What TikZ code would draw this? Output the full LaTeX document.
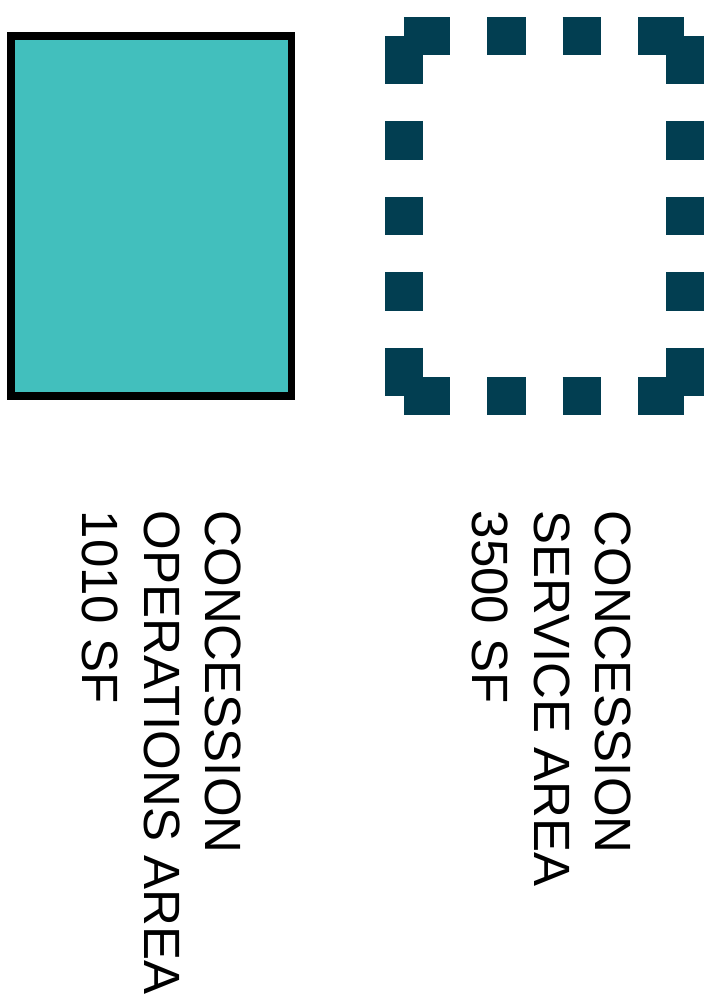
\documentclass[tikz,border=0pt]{standalone}
\usepackage{fontspec}
\setmainfont{Liberation Sans}
\usetikzlibrary{positioning}
\definecolor{planTeal}{RGB}{66,191,189}
\definecolor{planNavy}{RGB}{2,62,81}
\tikzset{
    plan/.style={x=1pt, y=-1pt, line cap=butt, line join=miter},
    opsarea/.style={draw=black, line width=7.5pt, fill=planTeal,
                    minimum width=280.5pt, minimum height=360pt, inner sep=0pt},
    servicearea/.style={minimum width=280.5pt, minimum height=360pt, inner sep=0pt},
    hdash/.style={draw=planNavy, line width=37.7pt,
                  dash pattern=on 46.25pt off 37pt on 38.5pt off 37pt on 38.5pt off 37pt on 46.25pt off 40pt},
    vdash/.style={draw=planNavy, line width=37.7pt,
                  dash pattern=on 48pt off 37pt on 38.7pt off 37pt on 38.7pt off 37pt on 38.7pt off 37pt on 48pt off 40pt},
    arealabel/.style={rotate=-90, anchor=north west, inner sep=0pt, align=left,
                      font=\fontsize{51}{61.6}\selectfont},
}

\begin{document}
\begin{tikzpicture}[plan]
\useasboundingbox (0,0) rectangle (716,1004);

% ─── Zones ──────────────────────────────────────────────────────────────
\node[opsarea]     (ops)     at (151.25,216) {};
\node[servicearea] (service) at (544.25,216) {};

% ─── Contour pointillé (chaque côté séparément) ─────────────────────────
\draw[hdash] (service.north west) -- (service.north east);
\draw[hdash] (service.south west) -- (service.south east);
\draw[vdash] (service.north west) -- (service.south west);
\draw[vdash] (service.north east) -- (service.south east);

% ─── Étiquettes ─────────────────────────────────────────────────────────
\node[arealabel] (opslabel)     at (241.5,510.5) {CONCESSION\\OPERATIONS AREA\\1010 SF};
\node[arealabel] (servicelabel) at (631.5,510.5) {CONCESSION\\SERVICE AREA\\3500 SF};

\end{tikzpicture}
\end{document}
